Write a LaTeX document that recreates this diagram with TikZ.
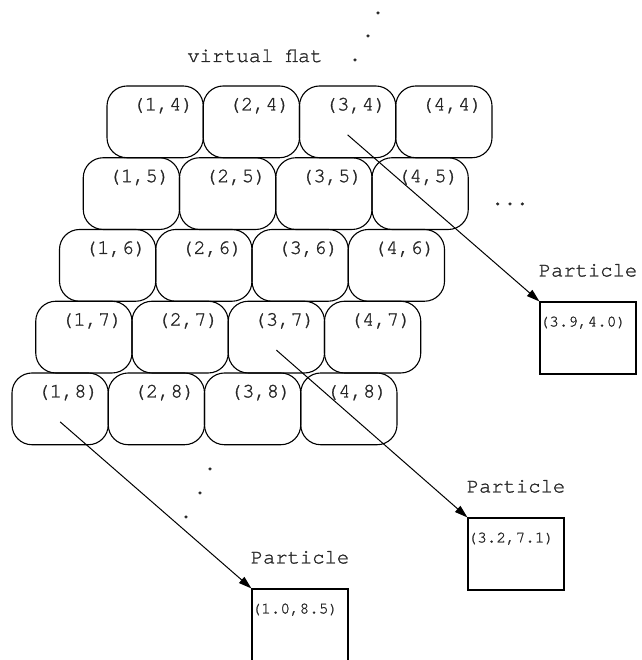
\documentclass[tikz,border=0pt]{standalone}
\usepackage{fontspec}
\newfontfamily\diagfont{texgyrecursor-regular.otf}[AutoFakeBold=1.2]
\usepackage{tikz}
\usetikzlibrary{positioning, arrows.meta, calc}
\definecolor{InkColor}{RGB}{0,0,0}
\tikzstyle{cell} = [rectangle, rounded corners=20pt, draw=InkColor, line width=1.1pt, minimum width=96.25pt, minimum height=71.75pt, inner sep=0pt]
\tikzstyle{particle} = [rectangle, draw=InkColor, line width=1.1pt, minimum width=96pt, minimum height=72pt, inner sep=0pt]
\tikzstyle{hit} = [-{Triangle[length=13pt,width=8pt]}, line width=1pt, InkColor]
\tikzset{
  big text/.style={font=\diagfont\bfseries\fontsize{20.5}{24}\selectfont, text=InkColor!85, inner sep=0pt, anchor=base},
  small text/.style={font=\diagfont\bfseries\fontsize{16}{19}\selectfont, text=InkColor!85, inner sep=0pt, anchor=base west},
  dot/.style={big text, text height=3pt}
}

\begin{document}
\begin{tikzpicture}[x=1pt, y=1pt]
  \useasboundingbox (0,0) rectangle (641,660);

  % Staggered grid of flat cells, one row per y index
  \foreach \r [count=\k from 0] in {4,...,8} {
    \foreach \c in {1,...,4} {
      \node[cell] (cell-\c-\r) at (155.125-23.75*\k+96.25*\c-96.25, 538.125-71.75*\k) {};
      \node[big text] (lab-\c-\r) at ([shift={(8,-25)}]cell-\c-\r.north) {(\c,\r)};
    }
  }

  % Title and continuation dots
  \node[big text] (title) at (255,598) {virtual flat};
  \node[dot] (dot-t1) at (378,646) {.};
  \node[dot] (dot-t2) at (368,623) {.};
  \node[dot] (dot-t3) at (355,599) {.};
  \node[dot] (dots-r) at (510,455) {...};
  \node[dot] (dot-b1) at (210,190) {.};
  \node[dot] (dot-b2) at (200,166) {.};
  \node[dot] (dot-b3) at (186,142) {.};

  % Particles with their positions
  \node[particle] (part-a) at (588,322) {};
  \node[particle] (part-b) at (516,106) {};
  \node[particle] (part-c) at (300,35) {};
  \foreach \p/\pos in {a/{(3.9,4.0)}, b/{(3.2,7.1)}, c/{(1.0,8.5)}} {
    \node[big text] (name-\p) at ([shift={(0,25)}]part-\p.north) {Particle};
    \node[small text] (pos-\p) at ([shift={(0,-25)}]part-\p.north west) {\pos};
  }

  % Each particle points back into the cell it lies in
  \coordinate (hit-3-4) at ([yshift=-13pt]cell-3-4.center);
  \coordinate (hit-3-7) at ([yshift=-13pt]cell-3-7.center);
  \coordinate (hit-1-8) at ([yshift=-13pt]cell-1-8.center);
  \draw[hit] (hit-3-4) -- (part-a.north west);
  \draw[hit] (hit-3-7) -- (part-b.north west);
  \draw[hit] (hit-1-8) -- (part-c.north west);
\end{tikzpicture}
\end{document}
